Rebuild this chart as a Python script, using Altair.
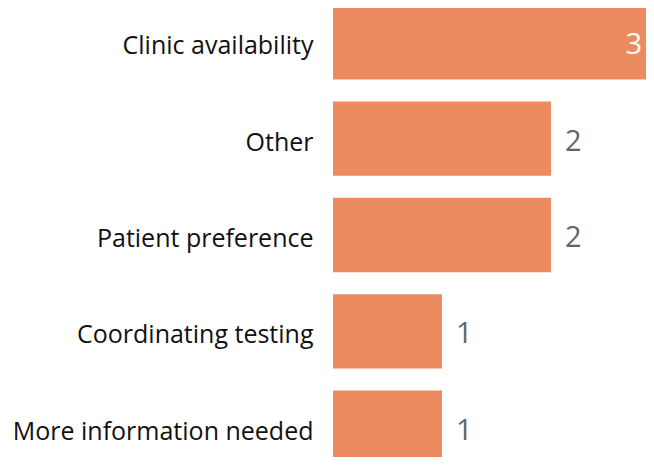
import altair as alt
import pandas as pd

categories = ["Clinic availability", "Other", "Patient preference", "Coordinating testing", "More information needed"]
values = [3, 2, 2, 1, 1]
inside = [True, False, False, False, False]

df = pd.DataFrame({"cat": categories, "val": values, "inside": inside})

y = alt.Y("cat:N", sort=categories, title=None,
          scale=alt.Scale(paddingInner=0.228, paddingOuter=0),
          axis=alt.Axis(ticks=False, domain=False, labelFontSize=25, labelFont="Open Sans",
                        labelColor="#111111", labelPadding=20, labelLimit=400,
                        labelBaseline="alphabetic", labelOffset=12))
xs = alt.Scale(domain=[0, 313 / 109])

bars = alt.Chart(df).mark_bar(color="#EB8B5F", clip=True).encode(
    x=alt.X("val:Q", scale=xs, axis=None), y=y)

out_lbl = alt.Chart(df).transform_filter("!datum.inside").mark_text(
    align="left", dx=14, fontSize=29, font="Open Sans", color="#666666", baseline="alphabetic", dy=12
).encode(x=alt.X("val:Q", scale=xs), y=y, text="val:Q")

in_lbl = alt.Chart(df).transform_filter("datum.inside").mark_text(
    align="right", dx=-18, fontSize=29, font="Open Sans", color="#ffffff", baseline="alphabetic", dy=12
).encode(x=alt.X("val:Q", scale=xs), y=y, text="val:Q")

chart = alt.layer(bars, out_lbl, in_lbl).properties(
    width=313, height=460,
    autosize=alt.AutoSizeParams(type="none"),
    padding={"left": 325, "top": -3, "right": 0, "bottom": -8},
).configure_view(stroke=None)

chart.save("out.html", embed_options={"renderer": "svg", "actions": False})
